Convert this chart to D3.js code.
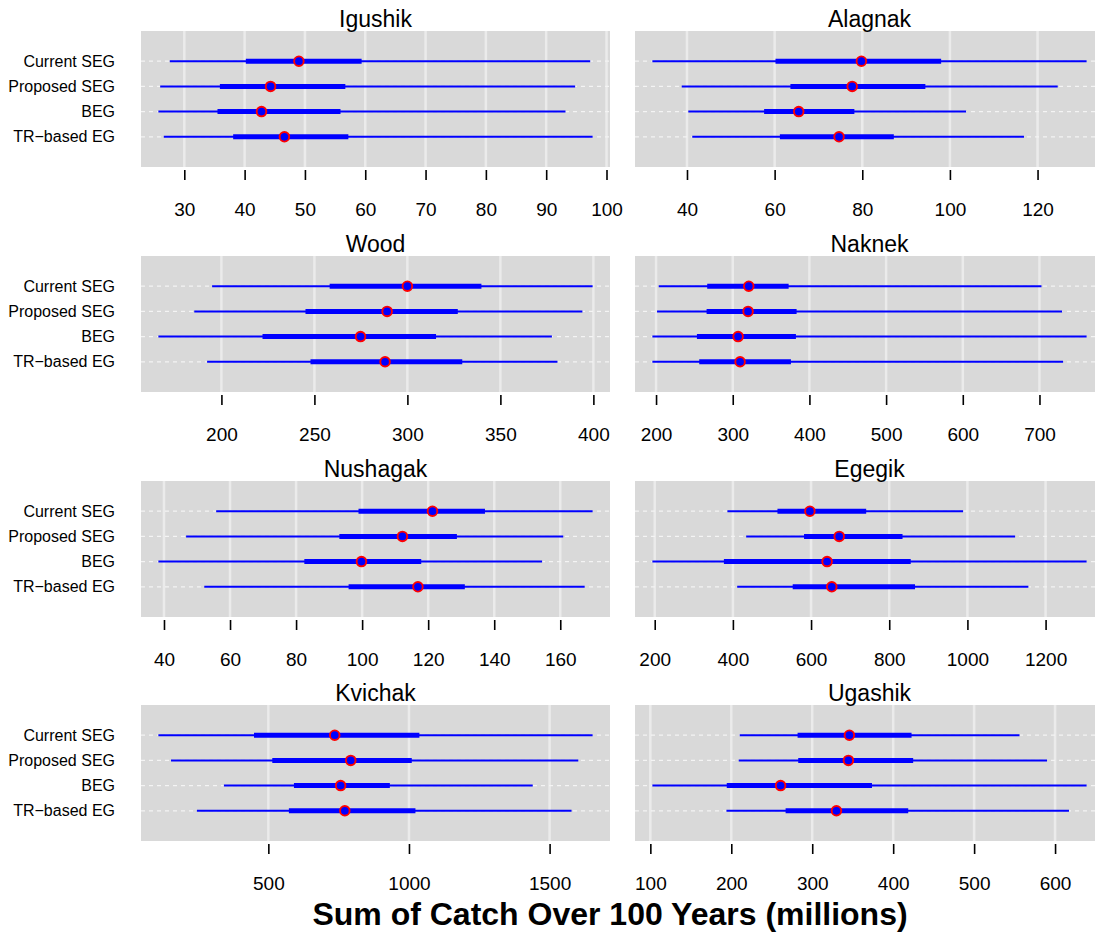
<!DOCTYPE html>
<html>
<head>
<meta charset="utf-8">
<script src="https://cdn.jsdelivr.net/npm/d3@7"></script>
<style>
  html, body { margin: 0; padding: 0; background: #ffffff; overflow: hidden; }
  svg { display: block; font-family: "Liberation Sans", Arial, Helvetica, sans-serif; }
</style>
</head>
<body>
<svg id="chart" width="1095" height="934"></svg>
<script>
// ---- data ----
const rivers = ["Igushik", "Alagnak", "Wood", "Naknek", "Nushagak", "Egegik", "Kvichak", "Ugashik"];
const categories = ["Current SEG", "Proposed SEG", "BEG", "TR\u2212based EG"];

// per river: values for [Current SEG, Proposed SEG, BEG, TR-based EG]
const lowEnd = [
  [27.6, 26.0, 25.7, 26.6],
  [32.1, 38.8, 40.3, 41.2],
  [195.0, 185.4, 166.1, 192.3],
  [203.5, 201.3, 195.2, 195.2],
  [55.8, 46.7, 38.3, 52.2],
  [386, 434, 194, 411],
  [109, 154, 342, 246],
  [210.4, 209.2, 102.5, 194.0]
];
const lowerInner = [
  [40.2, 35.9, 35.5, 38.1],
  [60.2, 63.6, 57.6, 61.2],
  [258.2, 245.2, 222.1, 247.9],
  [266.7, 265.9, 253.3, 256.3],
  [98.9, 93.1, 82.5, 95.9],
  [514, 582, 377, 553],
  [449, 514, 591, 573],
  [281.9, 282.7, 194.4, 267.1]
];
const medians = [
  [49.0, 44.3, 42.8, 46.6],
  [79.8, 77.7, 65.5, 74.7],
  [300.0, 289.1, 274.8, 288.0],
  [320.9, 320.0, 307.0, 309.6],
  [121.3, 112.2, 99.8, 116.9],
  [597, 672, 641, 653],
  [736, 793, 757, 772],
  [345.9, 344.7, 260.9, 329.9]
];
const upperInner = [
  [59.4, 56.7, 55.9, 57.2],
  [98.0, 94.4, 78.2, 87.2],
  [339.8, 327.1, 315.4, 329.5],
  [372.9, 383.3, 382.4, 375.9],
  [137.2, 128.7, 117.9, 131.1],
  [741, 834, 855, 866],
  [1037, 1010, 932, 1023],
  [422.7, 424.7, 373.8, 418.6]
];
const highEnd = [
  [97.3, 94.8, 93.2, 97.7],
  [131.2, 124.6, 103.7, 116.9],
  [399.6, 394.1, 377.7, 380.7],
  [702.6, 729.5, 761.5, 730.8],
  [169.8, 160.9, 154.5, 167.4],
  [989, 1122, 1305, 1156],
  [1653, 1602, 1440, 1578],
  [556.1, 590.1, 639.0, 617.2]
];
const tickValues = [
  [30, 40, 50, 60, 70, 80, 90, 100],
  [40, 60, 80, 100, 120],
  [200, 250, 300, 350, 400],
  [200, 300, 400, 500, 600, 700],
  [40, 60, 80, 100, 120, 140, 160],
  [200, 400, 600, 800, 1000, 1200],
  [500, 1000, 1500],
  [100, 200, 300, 400, 500, 600]
];
const xTitle = "Sum of Catch Over 100 Years (millions)";

// ---- layout ----
const svg = d3.select("#chart");
const colX = [141, 635];
const panelW = 469;
const rowY = [31, 256, 481, 705];
const panelH = 136;

rivers.forEach((name, i) => {
  const col = i % 2, row = Math.floor(i / 2);
  const x0 = colX[col], y0 = rowY[row];
  const g = svg.append("g");

  const lo = d3.min(lowEnd[i]), hi = d3.max(highEnd[i]);
  const pad = (hi - lo) * 0.04;
  const x = d3.scaleLinear().domain([lo - pad, hi + pad]).range([x0, x0 + panelW]);
  // category index: Current SEG at top (4) down to TR-based EG (1)
  const y = d3.scaleLinear().domain([5.2, -0.2]).range([y0, y0 + panelH]);
  const yPos = k => y(4 - k);

  // background
  g.append("rect").attr("x", x0).attr("y", y0).attr("width", panelW).attr("height", panelH)
    .attr("fill", "#d9d9d9");

  // vertical grid
  g.selectAll("line.vg").data(tickValues[i]).enter().append("line")
    .attr("x1", d => x(d)).attr("x2", d => x(d))
    .attr("y1", y0).attr("y2", y0 + panelH)
    .attr("stroke", "#ebebeb").attr("stroke-width", 2.5);

  // horizontal dashed lines
  g.selectAll("line.hg").data(categories).enter().append("line")
    .attr("x1", x0).attr("x2", x0 + panelW)
    .attr("y1", (d, k) => yPos(k)).attr("y2", (d, k) => yPos(k))
    .attr("stroke", "#f4f4f4").attr("stroke-width", 1.2)
    .attr("stroke-dasharray", "4,4");

  // thin whisker lines
  g.selectAll("line.thin").data(categories).enter().append("line")
    .attr("x1", (d, k) => x(lowEnd[i][k])).attr("x2", (d, k) => x(highEnd[i][k]))
    .attr("y1", (d, k) => yPos(k)).attr("y2", (d, k) => yPos(k))
    .attr("stroke", "#0000ff").attr("stroke-width", 2);

  // thick inner lines
  g.selectAll("line.thick").data(categories).enter().append("line")
    .attr("x1", (d, k) => x(lowerInner[i][k])).attr("x2", (d, k) => x(upperInner[i][k]))
    .attr("y1", (d, k) => yPos(k)).attr("y2", (d, k) => yPos(k))
    .attr("stroke", "#0000ff").attr("stroke-width", 5);

  // median points
  g.selectAll("circle.med").data(categories).enter().append("circle")
    .attr("cx", (d, k) => x(medians[i][k])).attr("cy", (d, k) => yPos(k))
    .attr("r", 4.8)
    .attr("fill", "#0000ff").attr("stroke", "#ff0000").attr("stroke-width", 1.9);

  // x axis ticks
  const ax = g.append("g").attr("transform", `translate(0,${y0 + panelH + 3})`)
    .call(d3.axisBottom(x).tickValues(tickValues[i]).tickSize(10).tickPadding(23)
      .tickFormat(d3.format("d")));
  ax.select(".domain").remove();
  ax.selectAll(".tick line").attr("stroke", "#000").attr("stroke-width", 1.6);
  ax.selectAll(".tick text").attr("fill", "#000").attr("font-size", 19)
    .attr("font-family", "Liberation Sans, Arial, sans-serif");

  // panel title
  g.append("text").attr("x", x0 + panelW / 2).attr("y", y0 - 4.5)
    .attr("text-anchor", "middle").attr("font-size", 23).attr("fill", "#000")
    .text(name);

  // category labels on left column
  if (col === 0) {
    g.selectAll("text.cat").data(categories).enter().append("text")
      .attr("x", 115).attr("y", (d, k) => yPos(k))
      .attr("dy", "0.35em")
      .attr("text-anchor", "end").attr("font-size", 16).attr("fill", "#000")
      .text(d => d);
  }
});

svg.append("text").attr("x", 610).attr("y", 925)
  .attr("text-anchor", "middle").attr("font-size", 32).attr("font-weight", "bold")
  .attr("fill", "#000").text(xTitle);
</script>
</body>
</html>
